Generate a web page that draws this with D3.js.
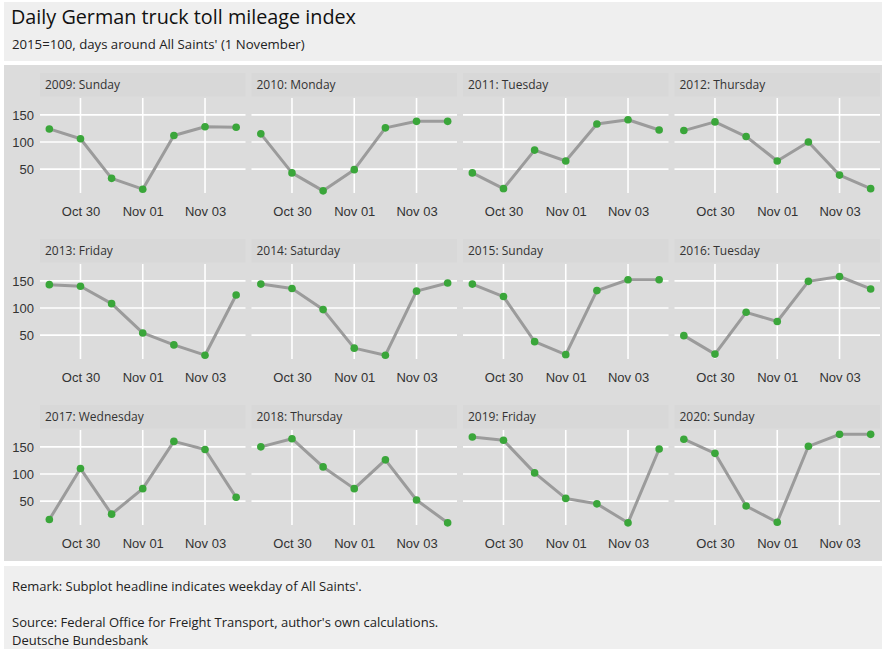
<!DOCTYPE html>
<html>
<head>
<meta charset="utf-8">
<script src="https://cdn.jsdelivr.net/npm/d3@7"></script>
<style>
  body { margin: 0; background: #fff; }
  svg { display: block; font-family: "Open Sans", "Noto Sans", sans-serif; }
</style>
</head>
<body>
<div id="chart"></div>
<script>
// days around All Saints' (29 Oct .. 4 Nov)
const days = ["10-29", "10-30", "10-31", "11-01", "11-02", "11-03", "11-04"];
const tickDays = ["10-30", "11-01", "11-03"];
const yTicks = [50, 100, 150];

const panelTitles = [
  "2009: Sunday", "2010: Monday", "2011: Tuesday", "2012: Thursday",
  "2013: Friday", "2014: Saturday", "2015: Sunday", "2016: Tuesday",
  "2017: Wednesday", "2018: Thursday", "2019: Friday", "2020: Sunday"
];

const v2009 = [124, 106, 33, 13, 112, 128, 127];
const v2010 = [115, 43, 10, 49, 126, 138, 138];
const v2011 = [43, 14, 85, 65, 133, 141, 122];
const v2012 = [121, 137, 110, 65, 100, 39, 14];
const v2013 = [143, 140, 108, 54, 32, 13, 124];
const v2014 = [144, 136, 97, 26, 13, 131, 146];
const v2015 = [144, 121, 38, 14, 132, 152, 152];
const v2016 = [49, 15, 92, 75, 149, 158, 135];
const v2017 = [16, 110, 26, 73, 160, 145, 57];
const v2018 = [150, 165, 113, 73, 126, 52, 10];
const v2019 = [168, 162, 102, 55, 45, 10, 146];
const v2020 = [164, 138, 41, 11, 151, 173, 173];

const series = [v2009, v2010, v2011, v2012, v2013, v2014, v2015, v2016, v2017, v2018, v2019, v2020];

const W = 886, H = 649;
const panelW = 205.5, panelH = 95;
const colX = [40, 251.5, 463, 674.5];
const rowY = [98, 264, 430];

const parseDay = d3.utcParse("%Y-%m-%d");
const toDate = d => parseDay("2000-" + d);

const svg = d3.select("#chart").append("svg")
  .attr("width", W)
  .attr("height", H);

// background bands
svg.append("rect").attr("x", 4).attr("y", 2).attr("width", 878).attr("height", 59).attr("fill", "#efefef");
svg.append("rect").attr("x", 4).attr("y", 65).attr("width", 878).attr("height", 496).attr("fill", "#dcdcdc");
svg.append("rect").attr("x", 4).attr("y", 566).attr("width", 878).attr("height", 83).attr("fill", "#efefef");

svg.append("text")
  .attr("x", 11).attr("y", 24)
  .style("font-size", "19.8px").attr("fill", "#111")
  .text("Daily German truck toll mileage index");
svg.append("text")
  .attr("x", 12).attr("y", 49)
  .style("font-size", "13.2px").attr("fill", "#222")
  .text("2015=100, days around All Saints' (1 November)");

// shared scales
const first = toDate(days[0]), last = toDate(days[days.length - 1]);
const pad = (last - first) * 0.05;
const x = d3.scaleUtc()
  .domain([new Date(+first - pad), new Date(+last + pad)])
  .range([0, panelW]);

const y = d3.scaleLinear()
  .domain([6, 181])
  .range([panelH, 0]);

const line = d3.line()
  .x(d => x(d.date))
  .y(d => y(d.value));

series.forEach((vals, i) => {
  const col = i % 4, row = Math.floor(i / 4);
  const g = svg.append("g")
    .attr("transform", "translate(" + colX[col] + "," + rowY[row] + ")");

  // strip
  g.append("rect")
    .attr("x", 0).attr("y", -25)
    .attr("width", panelW).attr("height", 23.5)
    .attr("fill", "#d8d8d8");
  g.append("text")
    .attr("x", 5).attr("y", -9)
    .style("font-size", "12px").attr("fill", "#333")
    .text(panelTitles[i]);

  // grid
  g.append("g").selectAll("line")
    .data(yTicks).enter().append("line")
    .attr("x1", 0).attr("x2", panelW)
    .attr("y1", d => y(d)).attr("y2", d => y(d))
    .attr("stroke", "#fff").attr("stroke-width", 1.6);
  g.append("g").selectAll("line")
    .data(tickDays.map(toDate)).enter().append("line")
    .attr("x1", d => x(d)).attr("x2", d => x(d))
    .attr("y1", 0).attr("y2", panelH)
    .attr("stroke", "#fff").attr("stroke-width", 1.6);

  // x axis labels
  const xAxis = g.append("g")
    .attr("transform", "translate(0," + panelH + ")")
    .call(d3.axisBottom(x).tickValues(tickDays.map(toDate)).tickFormat(d3.utcFormat("%b %d")).tickSize(0).tickPadding(0));
  xAxis.select(".domain").remove();
  xAxis.selectAll("text")
    .attr("dy", null).attr("y", 23)
    .style("font-size", "13px").style("font-family", "inherit").attr("fill", "#333");

  // y axis labels, first column only
  if (col === 0) {
    const yAxis = g.append("g")
      .call(d3.axisLeft(y).tickValues(yTicks).tickSize(0).tickPadding(6));
    yAxis.select(".domain").remove();
    yAxis.selectAll("text")
      .style("font-size", "13px").style("font-family", "inherit").attr("fill", "#333");
  }

  const pts = days.map((d, k) => ({ date: toDate(d), value: vals[k] }));

  g.append("path")
    .datum(pts)
    .attr("d", line)
    .attr("fill", "none")
    .attr("stroke", "#9b9b9b")
    .attr("stroke-width", 3)
    .attr("stroke-linejoin", "round");

  g.append("g").selectAll("circle")
    .data(pts).enter().append("circle")
    .attr("cx", d => x(d.date))
    .attr("cy", d => y(d.value))
    .attr("r", 3.8)
    .attr("fill", "#3aa63a");
});

// caption
const caption = ["Remark: Subplot headline indicates weekday of All Saints'.", "", "Source: Federal Office for Freight Transport, author's own calculations.", "Deutsche Bundesbank"];
const capY = [591, 0, 627, 645];
caption.forEach((c, i) => {
  if (!c) return;
  svg.append("text")
    .attr("x", 12).attr("y", capY[i])
    .style("font-size", "13px").attr("fill", "#222")
    .text(c);
});
</script>
</body>
</html>
